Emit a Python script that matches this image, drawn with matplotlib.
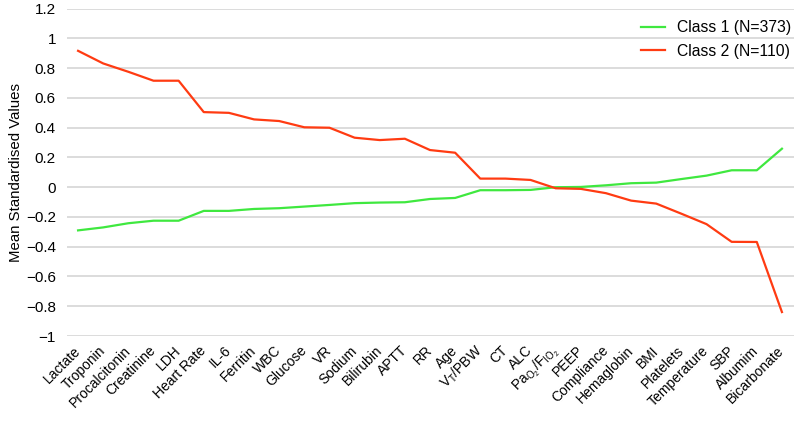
import matplotlib.pyplot as plt
import numpy as np

plt.rcParams["font.family"] = ["Liberation Sans", "DejaVu Sans"]
plt.rcParams["axes.unicode_minus"] = True

# Variables ordered by Class 2 mean
variables = [
    "Lactate", "Troponin", "Procalcitonin", "Creatinine", "LDH", "Heart Rate",
    "IL-6", "Ferritin", "WBC", "Glucose", "VR", "Sodium", "Bilirubin", "APTT",
    "RR", "Age", r"V$_\mathregular{T}$/PBW", "CT", "ALC",
    r"Pa$_\mathregular{O_2}$/F$_\mathregular{IO_2}$", "PEEP", "Compliance",
    "Hemaglobin", "BMI", "Platelets", "Temperature", "SBP", "Albumim",
    "Bicarbonate",
]

class1 = [
    -0.29, -0.27, -0.242, -0.225, -0.225, -0.159, -0.159, -0.146, -0.141,
    -0.13, -0.119, -0.107, -0.103, -0.101, -0.079, -0.072, -0.02, -0.02,
    -0.018, 0.0, 0.002, 0.013, 0.027, 0.031, 0.055, 0.078, 0.114, 0.114,
    0.259,
]
class2 = [
    0.917, 0.832, 0.776, 0.716, 0.716, 0.505, 0.50, 0.456, 0.445, 0.403,
    0.40, 0.333, 0.317, 0.326, 0.25, 0.232, 0.058, 0.058, 0.049, -0.007,
    -0.011, -0.04, -0.09, -0.11, -0.178, -0.248, -0.367, -0.368, -0.839,
]

fig = plt.figure(figsize=(7.94, 4.25), dpi=100)
ax = fig.add_axes([0.0844, 0.2094, 0.9156, 0.7701])

x = np.arange(len(variables))
ax.plot(x, class1, color="#3fe83f", lw=1.6, label="Class 1 (N=373)")
ax.plot(x, class2, color="#ff3b12", lw=1.6, label="Class 2 (N=110)")

ax.set_xlim(-0.44, len(variables) - 0.52)
ax.set_ylim(-1, 1.2)
ax.set_yticks(np.arange(-1, 1.21, 0.2))
ax.set_yticklabels(["\u22121", "\u22120.8", "\u22120.6", "\u22120.4", "\u22120.2",
                    "0", "0.2", "0.4", "0.6", "0.8", "1", "1.2"])
ax.grid(axis="y", color="#d9d9d9", lw=1.3)
ax.set_axisbelow(True)
for s in ax.spines.values():
    s.set_visible(False)

ax.set_xticks(x)
ax.set_xticklabels(variables, rotation=45, ha="right", va="center",
                   rotation_mode="anchor", fontsize=10)
ax.tick_params(axis="x", length=0, pad=9)
ax.tick_params(axis="y", length=0, pad=8, labelsize=11)
ax.set_ylabel("Mean Standardised Values", fontsize=10.8, labelpad=2)

ax.legend(loc="upper right", frameon=False, fontsize=11.3, handlelength=1.5,
          bbox_to_anchor=(1.016, 1.008), labelspacing=0.55)

fig.savefig("out.png", dpi=100)
